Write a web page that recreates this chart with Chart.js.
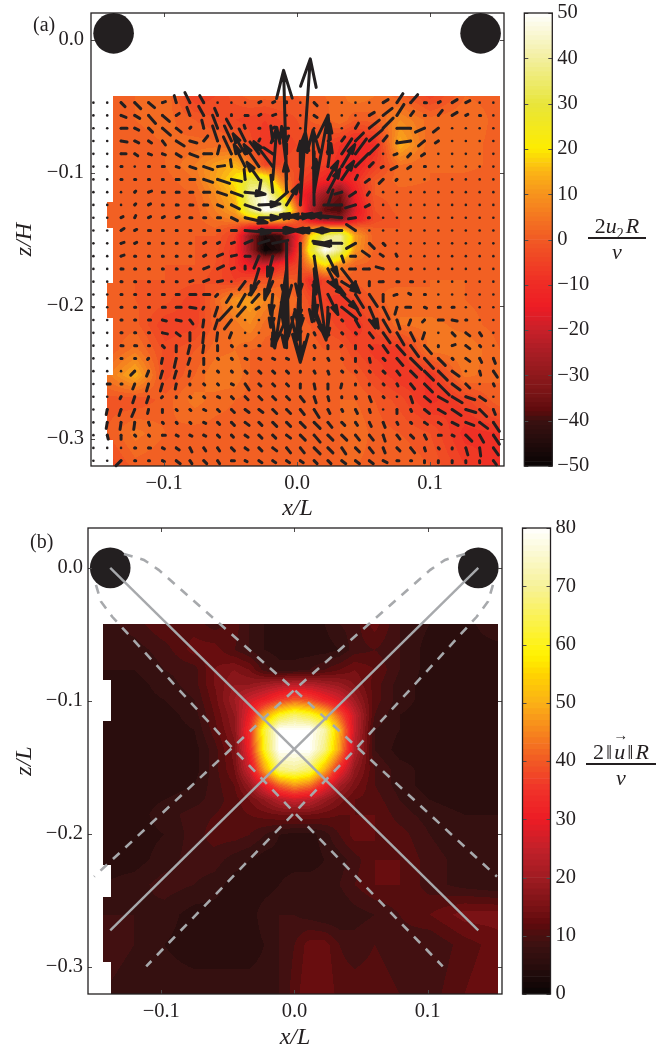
<!DOCTYPE html>
<html>
<head>
<meta charset="utf-8">
<title>Velocity fields</title>
<script src="https://cdn.jsdelivr.net/npm/chart.js@4"></script>
<style>
  body { margin: 0; background: #fff; }
  #page { position: relative; width: 656px; height: 1049px; overflow: hidden; font-family: "Liberation Serif", serif; color: #231f20; }
  canvas { position: absolute; }
  .txt { position: absolute; white-space: nowrap; font-size: 21px; line-height: 1; }
  .bar { position: absolute; height: 2px; background: #231f20; }
  sub { font-size: 14px; line-height: 0; }
</style>
</head>
<body>
<div id="page">
  <canvas id="panelA" width="515" height="520" style="left:0;top:0"></canvas>
  <canvas id="barA" width="85" height="520" style="left:515px;top:0"></canvas>
  <canvas id="panelB" width="515" height="529" style="left:0;top:520px"></canvas>
  <canvas id="barB" width="85" height="529" style="left:515px;top:520px"></canvas>

  <div class="txt" style="left:33px;top:14px;font-size:20px">(a)</div>
  <div class="txt" style="left:30px;top:531px;font-size:20px">(b)</div>

  <div class="txt" style="left:588px;width:58px;text-align:center;top:215px;font-size:22px">2<i>u</i><sub>2</sub><i style="margin-left:2px">R</i></div>
  <div class="bar" style="left:588px;width:58px;top:237px"></div>
  <div class="txt" style="left:588px;width:58px;text-align:center;top:241px;font-size:22px"><i>ν</i></div>

  <div class="txt" style="left:586px;width:70px;text-align:center;top:741px;font-size:22px">2<span style="margin:0 2px">‖</span><span style="position:relative"><i>u</i><span style="position:absolute;left:-1px;top:-11px;font-size:15px">→</span></span><span style="margin:0 2px">‖</span><i>R</i></div>
  <div class="bar" style="left:586px;width:70px;top:763px"></div>
  <div class="txt" style="left:586px;width:70px;text-align:center;top:767px;font-size:22px"><i>ν</i></div>
</div>

<script>
// Axis ticks
const xTicks = [-0.1, 0, 0.1];
const zTicks = [0, -0.1, -0.2, -0.3];
const barTicksA = [-50, -40, -30, -20, -10, 0, 10, 20, 30, 40, 50];
const barTicksB = [0, 10, 20, 30, 40, 50, 60, 70, 80];

// Cylinders at the top corners (x/L, z)
const cylindersA = [{ x: -0.138, y: 0.005 }, { x: 0.138, y: 0.005 }];
const cylindersB = [{ x: -0.1383, y: 0 }, { x: 0.138, y: 0 }];

// Colour map stops: value, colour
const stopsValA = [-50, -45, -40, -38, -35, -30, -25, -20, -15, -10, 0, 10, 15, 20, 30, 40, 50];
const stopsColA = ['#080404', '#220b0b', '#3a1010', '#5c0a0c', '#721214', '#8f191c', '#a91d24', '#c8202a', '#ed1c24', '#ef2b25', '#f15a24', '#f7941d', '#fbb515', '#fdec00', '#e8e53c', '#f3efa0', '#ffffff'];
const stopsValB = [0, 5, 8, 10, 12, 15, 20, 25, 30, 35, 40, 50, 55, 58, 70, 80];
const stopsColB = ['#0a0505', '#2a0d0d', '#3a1111', '#4a0f10', '#5f0a0c', '#7a1215', '#a01c22', '#c4202a', '#ed1c24', '#f0322a', '#f15a24', '#fbb116', '#ffd500', '#fff200', '#f7f29a', '#ffffff'];

// Left edge of the measured window: [z top, z bottom, x]
const leftEdgeA = [[-0.1218, -0.1414, -0.1429], [-0.1827, -0.2090, -0.1429], [-0.2519, -0.3008, -0.1429]];
const leftBaseA = -0.1383;
const leftEdgeB = [[-0.0842, -0.1150, -0.1378], [-0.2233, -0.2474, -0.1378], [-0.2962, -0.3203, -0.1378]];
const leftBaseB = -0.1434;

// Panel (a): 2 u2 R / nu, read on a coarse grid
const heatXA = [-0.1429, -0.1218, -0.0992, -0.0767, -0.0617, -0.0466, -0.0353, -0.0241, -0.0128, 0, 0.0098, 0.0211, 0.0323, 0.0436, 0.0586, 0.0774, 0.1, 0.1263, 0.1526];
const heatZA = [-0.0421, -0.0602, -0.0789, -0.094, -0.1053, -0.1165, -0.1278, -0.1353, -0.1414, -0.1474, -0.1579, -0.1692, -0.1805, -0.1955, -0.2143, -0.2331, -0.2519, -0.2707, -0.2955, -0.3203];
const heatA = [
  [1, 2, 4, -6, -4, -1, 1, 1, 1, 0, 1, 2, 3, 6, 4, 1, -5, 2, 1],
  [1, 2, 3, 0, -2, -4, -5, -6, -4, -2, 0, 1, 4, 0, 1, 8, 3, 4, 1],
  [1, 1, 2, 3, 3, 2, -3, -8, -6, -4, -1, -4, -8, -12, -10, 14, 2, 3, 1],
  [1, 1, 2, 6, 11, 15, 6, -4, -4, -2, -4, -6, -10, -14, -6, 4, 2, 3, 1],
  [0, 0, 1, 4, 12, 20, 32, 30, 8, -4, -8, -12, -16, -10, 0, 3, 2, 1, 1],
  [0, 0, 0, 2, 8, 16, 40, 48, 25, -10, -18, -28, -36, -14, 0, 1, 1, 1, 1],
  [0, 0, 0, 1, 6, 12, 35, 50, 48, 5, -22, -38, -40, -18, -2, 1, 1, 1, 1],
  [0, 0, 0, 1, 4, 6, 10, 16, 14, 0, -16, -26, -30, -14, -3, 0, 1, 1, 1],
  [0, 0, 0, 0, 2, -2, -14, -20, -15, -5, 6, 10, 12, 3, 0, 0, 1, 1, 1],
  [0, 0, 0, 0, 0, -6, -30, -46, -42, -15, 18, 35, 40, 12, 0, 1, 1, 1, 1],
  [0, 0, 0, 0, -1, -8, -28, -50, -45, -10, 25, 50, 38, 10, 1, 1, 1, 1, 1],
  [0, 0, 0, 0, -2, -8, -16, -18, -10, -5, 8, 20, 8, 2, 1, 1, 2, 1, 1],
  [0, 0, 0, -1, -3, -6, -3, -2, 1, 0, -10, -5, 0, 1, 2, 1, 2, 2, 1],
  [0, 0, -1, -6, 2, 10, 12, 8, 4, 2, -3, -6, -8, -4, 1, 4, 2, 2, 1],
  [0, 1, -6, -5, 1, 5, 8, 3, 2, 1, 0, -2, -5, -8, -3, 4, 5, 3, 1],
  [0, 5, -3, 0, 3, 4, 2, 1, 1, 1, 1, 0, 0, -4, -7, -8, 5, 6, 2],
  [5, 14, -3, 2, 6, 6, 2, 1, 1, 1, 1, 1, 1, 0, -4, -8, -8, 5, 2],
  [-1, -2, 1, 5, 3, 2, 1, 1, 1, 0, 0, 1, 2, 2, 0, -3, -9, -5, 2],
  [0, 5, 2, 1, 1, 1, 1, 1, 1, 1, 0, 1, 2, 4, 1, 0, -2, -9, -8],
  [-4, 1, 0, 0, 1, 0, 1, 1, 1, 2, 1, 2, 2, 2, 1, 2, 0, -6, -10]
];

// Panel (b): 2 |u| R / nu
const heatXB = [-0.1436, -0.1203, -0.0977, -0.0752, -0.0602, -0.0451, -0.0338, -0.0226, -0.0113, 0, 0.0113, 0.0226, 0.0338, 0.0451, 0.0602, 0.0789, 0.1015, 0.1278, 0.1526];
const heatZB = [-0.0421, -0.0617, -0.0767, -0.088, -0.0992, -0.1105, -0.1218, -0.1368, -0.1519, -0.1632, -0.1744, -0.1857, -0.2008, -0.2195, -0.2383, -0.2609, -0.2835, -0.3203];
const heatB = [
  [7, 9, 12, 11, 9, 11, 8, 6, 5, 5, 5, 6, 8, 9, 13, 8, 6, 5, 8],
  [7, 7, 9, 13, 13, 10, 8, 6, 5, 5, 5, 5, 6, 9, 10, 8, 5, 5, 5],
  [6, 6, 8, 9, 14, 16, 14, 9, 7, 7, 8, 10, 12, 14, 12, 8, 5, 5, 5],
  [6, 5, 7, 9, 14, 18, 18, 20, 22, 24, 23, 21, 19, 16, 11, 7, 5, 5, 5],
  [6, 5, 6, 8, 13, 20, 26, 30, 36, 40, 38, 32, 27, 20, 11, 7, 5, 5, 5],
  [5, 5, 5, 7, 12, 18, 30, 48, 60, 66, 62, 54, 40, 25, 10, 6, 5, 5, 5],
  [5, 5, 5, 6, 11, 17, 34, 62, 80, 80, 80, 72, 50, 25, 8, 6, 5, 5, 5],
  [5, 5, 5, 5, 9, 15, 32, 60, 80, 80, 80, 68, 48, 23, 8, 5, 5, 5, 5],
  [5, 5, 5, 5, 9, 14, 26, 48, 68, 70, 66, 50, 32, 18, 10, 7, 5, 5, 5],
  [5, 5, 5, 6, 9, 12, 19, 30, 42, 48, 44, 32, 21, 15, 10, 7, 5, 5, 5],
  [5, 5, 6, 7, 9, 11, 14, 18, 23, 26, 24, 19, 15, 12, 11, 8, 6, 5, 6],
  [5, 5, 7, 9, 10, 11, 12, 13, 14, 14, 14, 13, 12, 12, 12, 9, 7, 6, 6],
  [5, 5, 6, 9, 11, 11, 10, 8, 6, 5, 5, 7, 10, 13, 12, 11, 8, 6, 7],
  [5, 5, 7, 9, 9, 7, 6, 5, 5, 5, 5, 6, 7, 9, 12, 12, 9, 7, 6],
  [6, 7, 9, 8, 7, 5, 5, 5, 6, 7, 7, 7, 8, 10, 12, 12, 9, 7, 6],
  [8, 8, 7, 5, 5, 5, 5, 7, 8, 8, 7, 6, 6, 7, 8, 10, 12, 15, 15],
  [9, 8, 6, 5, 5, 5, 5, 6, 8, 10, 13, 13, 10, 9, 10, 9, 8, 11, 13],
  [8, 7, 7, 7, 7, 7, 7, 7, 8, 11, 14, 14, 11, 11, 11, 10, 9, 12, 14]
];

// Quiver positions in panel (a)
const quiverX = [-0.1532, -0.1428, -0.1324, -0.1221, -0.1117, -0.1013, -0.0909, -0.0806, -0.0702, -0.0598, -0.0494, -0.0391, -0.0287, -0.0183, -0.0079, 0.0024, 0.0128, 0.0232, 0.0336, 0.0439, 0.0543, 0.0647, 0.0751, 0.0854, 0.0958, 0.1062, 0.1166, 0.1269, 0.1373, 0.1476];
const quiverZ = [-0.0471, -0.0567, -0.0663, -0.0759, -0.0856, -0.0952, -0.1048, -0.1144, -0.124, -0.1336, -0.1432, -0.1529, -0.1625, -0.1721, -0.1817, -0.1913, -0.2009, -0.2105, -0.2202, -0.2298, -0.2394, -0.249, -0.2586, -0.2682, -0.2778, -0.2875, -0.2971, -0.3067, -0.3163];

// Quiver components, one row per z position (1 unit = 1/1330 on the axes)
const quiverU = [
  [0, 0, 4, 6, 6, 3, -2, -5, -4, 0, 0, 0, 2, 2, 0, 0, 3, 0, 0, 0, 0, 5, 6, 7, 2, 2, 5, 4, 0, 0],
  [0, 0, 5, 5, 7, 7, 3, -3, -5, -3, 0, 3, 2, 3, 0, 0, 3, 0, 0, 0, 5, 9, 7, 3, 1, 4, 5, 2, 1, 0],
  [0, 0, 6, 4, 4, 8, 5, 1, -2, -5, -5, -1, 1, 2, 2, 0, 0, 0, 0, 3, 10, 10, 1, -12, -9, -5, 0, 0, 0, 0],
  [0, 0, 6, 4, 3, 3, 8, 7, 4, -5, -7, -6, 1, -2, 2, 0, 1, 0, 3, 8, 13, 4, 0, -14, -6, -3, 0, 0, 0, 0],
  [0, 0, 5, 3, 3, 3, 5, 8, 8, 2, -8, -12, -9, -9, 0, 0, 0, 2, 10, 11, 9, 0, -3, -3, -3, 0, 0, 0, 0, 0],
  [0, 0, 1, 0, 1, 2, 3, 6, 9, 7, -1, -11, -15, -19, -5, 0, 0, 3, 13, 13, 4, -2, -6, -3, 1, 0, 0, 0, 0, 0],
  [0, 0, 1, 1, 1, 1, 3, 5, 9, 12, 10, -1, -12, 4, -3, 4, 2, 10, 12, 2, -4, -4, -1, 0, 0, 0, 0, 0, 0, 0],
  [0, 0, 0, 1, 3, 2, 3, 3, 6, 9, 11, 20, 2, -2, -1, 5, 14, 12, -7, -6, -2, 0, 0, 0, 0, 0, 0, 0, 0, 0],
  [0, 0, 0, 1, 2, 1, 2, 3, 4, 5, 8, 15, 21, 15, 12, 10, -1, 5, -18, -10, -4, 0, 0, 0, 0, 0, 0, 0, 0, 0],
  [0, 0, 2, 1, 2, 2, 3, 2, 2, 3, 6, 22, 21, 20, 25, -20, -25, -25, -30, -7, -1, 0, 0, 0, 0, 0, 0, 0, 0, 0],
  [0, 0, 3, 2, 2, 1, 1, 1, 1, 2, 5, 25, 38, 20, 25, 30, -20, -28, -28, -9, 0, 0, 0, 0, 0, 0, 0, 0, 0, 0],
  [0, 0, 3, 2, 1, 1, 1, 1, 2, 2, 3, 7, 10, 15, 0, 0, 15, -15, -20, -9, 5, 2, 0, 0, 0, 0, 0, 0, 0, 0],
  [0, 0, 3, 1, 1, 1, 1, 1, 2, 5, 5, 5, -5, -5, 2, -2, 12, 10, 2, -5, -7, -3, -1, 0, 0, 0, 0, 0, 0, 0],
  [0, 0, 2, 1, 1, 1, 1, 1, 5, 6, 3, 0, -8, -8, -11, -4, 2, 10, 17, -6, -6, -7, 1, 1, 0, 0, 0, 0, 0, 0],
  [0, 0, 1, 1, 1, 1, 1, 3, 5, 5, 0, -6, -10, -8, -4, -3, -2, 17, 18, 0, 0, -4, 2, 2, 0, 0, 0, 0, 0, 0],
  [0, 0, 1, 1, 1, 2, 3, 6, 6, -2, -5, -7, -7, -2, -3, -1, 2, 10, 16, 8, 8, 0, -3, -2, 1, 0, 0, 0, 0, 0],
  [0, 0, 1, 1, 1, 3, 5, 6, -1, -3, -12, -8, -3, -2, -2, 0, 10, -1, 15, 5, 9, 6, -2, -5, 2, 2, 2, 0, 0, 0],
  [0, 0, 1, 1, 2, 4, 5, 3, -1, -3, -7, 0, 0, 2, -2, -3, 0, 0, 1, 4, 6, 7, 3, -2, -2, 5, 5, 1, 0, 0],
  [0, 0, 1, 1, 1, 5, 4, 0, -1, -1, -2, 0, 0, -1, 0, 0, 1, 1, 1, 1, 4, 7, 7, 4, -2, 0, 3, 4, 2, 0],
  [0, 0, 2, 2, 1, 2, 0, -2, -1, 0, 1, 1, 1, 1, 0, 0, 1, 0, -1, 0, 3, 5, 8, 8, 7, 0, 3, 4, 1, 0],
  [0, 0, 1, 1, -1, -1, -2, -2, 0, 1, 1, 2, 2, 2, 2, 1, 0, 1, 1, 0, 1, 2, 6, 11, 9, 7, 1, 4, 2, 2],
  [0, 0, 0, -4, -2, -2, -2, -1, 0, 1, 1, 2, 2, 2, 2, 0, 1, 1, 1, 1, 1, 2, 3, 6, 9, 9, 7, 0, 1, 4],
  [0, 3, 1, -2, -2, -2, -1, 0, 1, 1, 2, 4, 2, 2, 2, 0, 1, 0, -1, 0, 0, 1, 1, 4, 8, 11, 8, 4, 0, 1],
  [0, 0, -1, -2, -2, -1, 0, 1, 1, 2, 2, 3, 3, 3, 3, 4, 2, 1, 0, 1, 2, 1, 0, 2, 6, 9, 10, 9, 6, 0],
  [0, -1, -2, -3, -1, 0, 1, 1, 2, 2, 3, 4, 4, 4, 4, 4, 5, 2, 1, 2, 1, 0, 0, 1, 5, 7, 9, 10, 7, 2],
  [0, -1, -1, -1, 1, 1, 1, 1, 2, 2, 3, 4, 3, 4, 4, 5, 6, 4, 3, 2, 2, 2, 1, 1, 3, 3, 6, 8, 8, 6],
  [0, 1, 0, 1, 1, 3, 2, 2, 2, 2, 2, 3, 3, 3, 4, 5, 6, 5, 5, 4, 4, 2, 3, 3, 2, 3, 2, 6, 4, 6],
  [0, 0, 0, 1, 2, 2, 3, 2, 2, 2, 3, 3, 3, 4, 4, 4, 6, 5, 4, 4, 4, 2, 3, 4, 1, 1, 0, 2, 1, 5],
  [0, 0, -5, 1, 1, 2, 4, 2, 3, 2, 3, 2, 3, 3, 3, 3, 3, 3, 4, 4, 4, 4, 2, 1, 0, 0, 0, 0, 0, 3]
];
const quiverV = [
  [0, 0, -4, -6, -5, 1, 7, 10, 7, 0, 0, 0, 1, 1, 1, 0, -3, 0, 0, 0, 0, 3, 9, 8, 0, 1, 3, 2, 0, 0],
  [0, 0, -2, -3, -8, -6, 2, 8, 9, 7, 1, 0, 1, 1, 0, 0, -2, 0, 0, 0, 3, 7, 11, 4, 0, 5, 3, 1, 0, 0],
  [0, 0, 0, -2, -4, -7, -4, 1, 8, 13, 9, 3, 0, 1, 0, 0, 0, 0, 0, 5, 8, 10, 0, 0, -4, -4, 0, 0, 0, 0],
  [0, 0, -1, -2, -2, -4, -5, -2, 5, 15, 15, 12, 2, 15, 5, 0, 1, 0, 4, 8, 11, 5, 0, -2, -5, -2, 0, 0, 0, 0],
  [0, 0, 0, -2, -1, -1, -3, -3, 0, 8, 17, 20, 12, 6, 10, 0, 0, 30, 15, 15, 9, 0, -1, -3, -2, 0, 0, 0, 0, 0],
  [0, 0, 0, 0, 0, 0, -1, -2, -3, 1, 7, 22, 22, 25, 40, 25, 15, 23, 22, 13, 4, -1, -3, -2, 0, 0, 0, 0, 0, 0],
  [0, 0, 0, 0, 0, 0, 0, 0, -3, -4, -2, 10, 17, 52, 109, 40, 20, 18, 18, 4, -3, -4, -1, 0, 0, 0, 0, 0, 0, 0],
  [0, 0, 0, 1, 1, 0, 0, 0, 0, -3, -4, -2, 12, 17, 30, 60, 77, 23, -2, -4, -3, 0, 0, 0, 0, 0, 0, 0, 0, 0],
  [0, 0, 0, 1, 1, 0, 0, 0, 0, -2, -4, -5, 1, 13, 20, 146, 75, 15, 0, -3, -2, 0, 0, 0, 0, 0, 0, 0, 0, 0],
  [0, 0, 1, 2, 1, 1, 1, 0, 0, 0, -3, -5, 0, 2, 2, 3, 2, 3, 3, -1, 0, 0, 0, 0, 0, 0, 0, 0, 0, 0],
  [0, 0, 2, 1, 0, 0, 0, 0, 0, 0, 0, -2, 0, 0, 0, 0, 0, 0, 0, 6, 0, 0, 0, 0, 0, 0, 0, 0, 0, 0],
  [0, 0, 1, 1, 0, 0, 0, 0, 1, 1, 1, 3, 3, 3, -60, -119, -3, 2, 0, -5, -5, -2, 0, 0, 0, 0, 0, 0, 0, 0],
  [0, 0, 1, 0, 0, 0, 0, 0, 1, 2, 1, 0, -12, -20, -80, -40, -84, -20, -6, 0, 5, 2, 2, 0, 0, 0, 0, 0, 0, 0],
  [0, 0, 0, 0, 0, 0, 0, 0, 2, 3, 1, 3, -26, -30, -74, -70, -25, -20, -22, 0, 0, 2, 0, 0, 0, 0, 0, 0, 0, 0],
  [0, 0, 0, 0, 0, 0, 0, 1, 2, 1, 0, -8, -13, -18, -30, -40, -40, -13, -11, -4, -4, 0, 0, 0, 0, 0, 0, 0, 0, 0],
  [0, 0, 0, 0, 0, 0, 0, 0, 0, -2, -8, -12, -8, -20, -30, -30, -20, -20, -15, -13, -12, -7, -1, 1, 0, 0, 0, 0, 0, 0],
  [0, 0, 0, 0, 0, 0, 0, -1, -2, -9, -13, -9, -2, -20, -40, -50, -27, -30, -12, -8, -21, -12, -7, 0, -1, 0, 0, 0, 0, 0],
  [0, 0, 0, 0, 0, -1, -1, -4, -7, -9, -9, 0, 0, -28, -25, -20, -1, -2, -1, -7, -8, -12, -9, -5, -2, 0, -1, 0, 0, 0],
  [0, 0, 0, 0, 0, -1, -3, -8, -10, -8, -5, 0, 0, -13, -15, -10, -2, -2, -1, -1, -5, -10, -12, -8, -6, 0, -3, -3, -3, 0],
  [0, 0, 0, 0, 0, -2, -6, -8, -7, -5, -1, 0, 0, -1, -1, -2, -2, -3, -1, -3, -3, -7, -9, -11, -8, -1, 1, -3, -1, 0],
  [0, 0, 0, 0, -1, -5, -9, -6, -6, -1, -1, -1, -1, -1, -1, -1, -1, -2, -1, -3, -4, -2, -7, -11, -10, -7, -1, -3, -4, -5],
  [0, 0, 0, -4, -5, -7, -7, -5, -1, -1, -1, -2, -2, -2, -2, -1, -2, -3, -1, -1, -1, -2, -4, -6, -9, -9, -5, 0, -4, -6],
  [0, 0, 0, -5, -7, -7, -5, -1, -1, -1, -1, -6, -2, -2, -2, -4, -5, -5, -4, -1, -1, -1, -2, -5, -8, -11, -6, -4, 0, -2],
  [0, 0, -2, -6, -6, -1, -1, -1, -1, -1, -2, -3, -3, -3, -3, -5, -6, -4, -1, -2, -5, -1, 0, -6, -5, -5, -6, -3, -4, 0],
  [0, -5, -6, -7, -4, -3, -1, -1, -1, -2, -3, -3, -3, -4, -4, -5, -8, -4, -2, -4, -3, 0, -4, -2, -4, -4, -6, -3, -7, -5],
  [0, -6, -7, -7, -3, -1, -1, -1, -1, -2, -3, -3, -3, -4, -4, -5, -6, -5, -3, -3, -4, -5, -2, -1, -2, -2, -3, -3, -6, -9],
  [0, -4, -4, -1, -1, 0, -1, -1, -1, -2, -2, -2, -3, -3, -3, -5, -7, -5, -5, -5, -5, -6, -4, -3, -4, 0, -1, -6, -7, -9],
  [0, 0, 0, 0, 0, -1, -2, -4, -3, -3, -3, -2, -3, -3, -5, -5, -6, -5, -6, -4, -5, -5, -3, -5, -3, -1, -1, -7, -8, -7],
  [0, 0, -5, 0, 0, -1, -3, -3, -3, -3, 0, -1, -2, -2, -2, -2, -3, -3, -3, -3, -3, -2, 0, 0, -2, -2, -2, -2, -2, -4]
];

// Grey beam lines in panel (b)
const beamSolid1 = [{ x: -0.1383, y: 0 }, { x: 0.138, y: -0.2727 }];
const beamSolid2 = [{ x: 0.138, y: 0 }, { x: -0.1383, y: -0.2727 }];
const beamDash1 = [{ x: -0.128, y: 0.0105 }, { x: -0.113, y: 0.006 }, { x: -0.102, y: -0.0015 }, { x: 0, y: -0.0917 }, { x: 0.0654, y: -0.1519 }, { x: 0.152, y: -0.2323 }];
const beamDash2 = [{ x: 0.128, y: 0.0105 }, { x: 0.113, y: 0.006 }, { x: 0.102, y: -0.0015 }, { x: 0, y: -0.0917 }, { x: -0.1504, y: -0.2323 }];
const beamDash3 = [{ x: -0.149, y: -0.0128 }, { x: -0.1453, y: -0.0253 }, { x: -0.1368, y: -0.0368 }, { x: -0.0476, y: -0.1344 }, { x: 0, y: -0.1842 }, { x: 0.1113, y: -0.2998 }];
const beamDash4 = [{ x: 0.149, y: -0.0128 }, { x: 0.1453, y: -0.0253 }, { x: 0.1368, y: -0.0368 }, { x: 0.0476, y: -0.1344 }, { x: 0, y: -0.1842 }, { x: -0.1113, y: -0.2998 }];

const INK = '#231f20';
const GREY = '#a7a9ac';
const FONT = '"Liberation Serif", serif';
const UNIT = 1 / 1330;

// Helpers
function hexToRgb(hex) {
  return [1, 3, 5].map(i => parseInt(hex.slice(i, i + 2), 16));
}

function colorAt(stopVals, stopCols, v) {
  let i = 0;
  while (i < stopVals.length - 2 && v > stopVals[i + 1]) i++;
  const t = Math.min(1, Math.max(0, (v - stopVals[i]) / (stopVals[i + 1] - stopVals[i])));
  const a = hexToRgb(stopCols[i]);
  const b = hexToRgb(stopCols[i + 1]);
  return a.map((c, k) => Math.round(c + (b[k] - c) * t));
}

function sampleGrid(xs, zs, grid, x, z) {
  let i = 0;
  while (i < xs.length - 2 && x > xs[i + 1]) i++;
  let j = 0;
  while (j < zs.length - 2 && z < zs[j + 1]) j++;
  const tx = Math.min(1, Math.max(0, (x - xs[i]) / (xs[i + 1] - xs[i])));
  const tz = Math.min(1, Math.max(0, (z - zs[j]) / (zs[j + 1] - zs[j])));
  const top = grid[j][i] + (grid[j][i + 1] - grid[j][i]) * tx;
  const bottom = grid[j + 1][i] + (grid[j + 1][i + 1] - grid[j + 1][i]) * tx;
  return top + (bottom - top) * tz;
}

// Filled contours, quantised like the colour bar
function heatPlugin(cfg) {
  return {
    id: 'heat',
    beforeDatasetsDraw(chart) {
      const { ctx, chartArea: area, scales } = chart;
      const w = Math.ceil(area.right - area.left);
      const h = Math.ceil(area.bottom - area.top);
      const off = document.createElement('canvas');
      off.width = w;
      off.height = h;
      const offCtx = off.getContext('2d');
      const img = offCtx.createImageData(w, h);
      const zMax = cfg.zs[0];
      const xMax = cfg.xs[cfg.xs.length - 1];
      for (let py = 0; py < h; py++) {
        const z = scales.y.getValueForPixel(area.top + py + 0.5);
        if (z > zMax) continue;
        let xLeft = cfg.leftBase;
        cfg.leftEdge.forEach(e => { if (z <= e[0] && z >= e[1]) xLeft = e[2]; });
        for (let px = 0; px < w; px++) {
          const x = scales.x.getValueForPixel(area.left + px + 0.5);
          if (x < xLeft || x > xMax) continue;
          const v = sampleGrid(cfg.xs, cfg.zs, cfg.grid, x, z);
          const level = Math.floor((v - cfg.min) / cfg.step) * cfg.step + cfg.min + cfg.step / 2;
          const rgb = colorAt(cfg.stopVals, cfg.stopCols, level);
          const k = (py * w + px) * 4;
          img.data[k] = rgb[0];
          img.data[k + 1] = rgb[1];
          img.data[k + 2] = rgb[2];
          img.data[k + 3] = 255;
        }
      }
      offCtx.putImageData(img, 0, 0);
      ctx.drawImage(off, area.left, area.top);
    }
  };
}

// Box and inward ticks
const framePlugin = {
  id: 'frame',
  afterDatasetsDraw(chart, args, opts) {
    const { ctx, chartArea: a, scales } = chart;
    ctx.save();
    ctx.strokeStyle = '#4d4a4a';
    ctx.lineWidth = 1;
    ctx.beginPath();
    const len = 4;
    (opts.yTicks || []).forEach(t => {
      const p = Math.round(scales.y.getPixelForValue(t)) + 0.5;
      ctx.moveTo(a.left, p); ctx.lineTo(a.left + len, p);
      ctx.moveTo(a.right, p); ctx.lineTo(a.right - len, p);
    });
    (opts.xTicks || []).forEach(t => {
      const p = Math.round(scales.x.getPixelForValue(t)) + 0.5;
      ctx.moveTo(p, a.top); ctx.lineTo(p, a.top + len);
      ctx.moveTo(p, a.bottom); ctx.lineTo(p, a.bottom - len);
    });
    ctx.stroke();
    ctx.strokeStyle = INK;
    ctx.lineWidth = 1.3;
    ctx.strokeRect(a.left, a.top, a.right - a.left, a.bottom - a.top);
    ctx.restore();
  }
};

// Each arrow becomes a small polyline, gaps keep them apart
function buildArrows() {
  const pts = [];
  quiverZ.forEach((z, j) => {
    quiverX.forEach((x, i) => {
      const u = quiverU[j][i];
      const v = quiverV[j][i];
      const len = Math.hypot(u, v);
      if (len === 0) return;
      const tipX = x + u * UNIT;
      const tipZ = z + v * UNIT;
      pts.push({ x: x, y: z }, { x: tipX, y: tipZ });
      if (len >= 20) {
        const head = Math.max(9, Math.min(28, 0.3 * len));
        const ux = u / len, uz = v / len;
        const bx = tipX - ux * head * UNIT, bz = tipZ - uz * head * UNIT;
        const half = head * 0.28 * UNIT;
        pts.push({ x: bx - uz * half, y: bz + ux * half }, { x: tipX, y: tipZ }, { x: bx + uz * half, y: bz - ux * half });
      }
      pts.push({ x: NaN, y: NaN });
    });
  });
  return pts;
}

function gridDots() {
  const pts = [];
  quiverZ.forEach(z => quiverX.forEach(x => pts.push({ x: x, y: z })));
  return pts;
}

function formatTick(v) {
  const s = Math.abs(v).toFixed(1);
  return v < -1e-9 ? '\u2212' + s : s;
}

function panelScales(xr, zr, xTitle, zTitle, leftW, bottomH, yPad) {
  return {
    x: {
      type: 'linear', min: xr[0], max: xr[1],
      afterBuildTicks: s => { s.ticks = xTicks.map(v => ({ value: v })); },
      afterFit: s => { s.height = bottomH; s.paddingLeft = 0; s.paddingRight = 0; },
      grid: { display: false, drawTicks: false },
      border: { display: false },
      ticks: { color: INK, font: { family: FONT, size: 20.5 }, padding: 5, maxRotation: 0, autoSkip: false, callback: formatTick },
      title: { display: true, text: xTitle, color: INK, font: { family: FONT, size: 24, style: 'italic' }, padding: { top: 0, bottom: -3 } }
    },
    y: {
      type: 'linear', min: zr[0], max: zr[1],
      afterBuildTicks: s => { s.ticks = zTicks.map(v => ({ value: v })); },
      afterFit: s => { s.width = leftW; s.paddingTop = 0; s.paddingBottom = 0; },
      grid: { display: false, drawTicks: false },
      border: { display: false },
      ticks: { color: INK, font: { family: FONT, size: 20.5 }, padding: yPad, autoSkip: false, callback: formatTick },
      title: { display: true, text: zTitle, color: INK, font: { family: FONT, size: 24, style: 'italic' }, padding: { top: 10, bottom: 0 } }
    }
  };
}

// Panel (a)
new Chart(document.getElementById('panelA'), {
  type: 'scatter',
  data: {
    datasets: [
      { data: cylindersA, pointRadius: 20.3, pointBackgroundColor: INK, pointBorderWidth: 0, clip: false, order: 3 },
      { data: buildArrows(), showLine: true, spanGaps: false, pointRadius: 0, borderColor: INK, borderWidth: 3, borderCapStyle: 'round', borderJoinStyle: 'round', order: 1, clip: false },
      { data: gridDots(), pointRadius: 1.3, pointBackgroundColor: INK, pointBorderWidth: 0, order: 2 }
    ]
  },
  options: {
    responsive: false, animation: false, devicePixelRatio: 1,
    layout: { autoPadding: false, padding: { top: 13, right: 11 } },
    scales: panelScales([-0.155, 0.1556], [-0.3203, 0.0203], 'x/L', 'z/H', 91, 54, 7),
    plugins: { legend: { display: false }, tooltip: { enabled: false }, frame: { xTicks: xTicks, yTicks: zTicks } }
  },
  plugins: [heatPlugin({ xs: heatXA, zs: heatZA, grid: heatA, min: -50, step: 2, stopVals: stopsValA, stopCols: stopsColA, leftEdge: leftEdgeA, leftBase: leftBaseA }), framePlugin]
});

// Panel (b)
const beamDashed = { showLine: true, pointRadius: 0, borderColor: GREY, borderWidth: 2.6, borderDash: [9, 8], clip: false, order: 1 };
const beamFull = { showLine: true, pointRadius: 0, borderColor: GREY, borderWidth: 2.4, clip: false, order: 1 };
new Chart(document.getElementById('panelB'), {
  type: 'scatter',
  data: {
    datasets: [
      { data: cylindersB, pointRadius: 20.3, pointBackgroundColor: INK, pointBorderWidth: 0, clip: false, order: 3 },
      { ...beamFull, data: beamSolid1 },
      { ...beamFull, data: beamSolid2 },
      { ...beamDashed, data: beamDash1 },
      { ...beamDashed, data: beamDash2 },
      { ...beamDashed, data: beamDash3 },
      { ...beamDashed, data: beamDash4 }
    ]
  },
  options: {
    responsive: false, animation: false, devicePixelRatio: 1,
    layout: { autoPadding: false, padding: { top: 8, right: 13 } },
    scales: panelScales([-0.155, 0.1558], [-0.3206, 0.03], 'x/L', 'z/L', 88, 55, 5),
    plugins: { legend: { display: false }, tooltip: { enabled: false }, frame: { xTicks: xTicks, yTicks: zTicks } }
  },
  plugins: [heatPlugin({ xs: heatXB, zs: heatZB, grid: heatB, min: 0, step: 2, stopVals: stopsValB, stopCols: stopsColB, leftEdge: leftEdgeB, leftBase: leftBaseB }), framePlugin]
});

// Colour bars: one floating bar per contour level
function colorBar(id, ticks, stopVals, stopCols, step, paddingLeft, paddingTop, bottomH, barW) {
  const lo = ticks[0];
  const hi = ticks[ticks.length - 1];
  const datasets = [];
  for (let v = lo; v < hi; v += step) {
    const rgb = colorAt(stopVals, stopCols, v + step / 2);
    datasets.push({ data: [[v, v + step]], backgroundColor: `rgb(${rgb.join(',')})`, borderWidth: 0, barPercentage: 1, categoryPercentage: 1, grouped: false });
  }
  const canvas = document.getElementById(id);
  new Chart(canvas, {
    type: 'bar',
    data: { labels: ['level'], datasets: datasets },
    options: {
      responsive: false, animation: false, devicePixelRatio: 1,
      layout: { padding: { left: paddingLeft, top: paddingTop, bottom: bottomH } },
      scales: {
        x: { display: false },
        y: {
          position: 'right', min: lo, max: hi,
          afterBuildTicks: s => { s.ticks = ticks.map(v => ({ value: v })); },
          afterFit: s => { s.width = canvas.width - paddingLeft - barW; s.paddingTop = 0; s.paddingBottom = 0; },
          grid: { display: false, drawTicks: false },
          border: { display: false },
          ticks: { color: INK, font: { family: FONT, size: 20.5 }, padding: 5, autoSkip: false, callback: v => (v < 0 ? '\u2212' + Math.abs(v) : String(v)) }
        }
      },
      plugins: { legend: { display: false }, tooltip: { enabled: false }, frame: { yTicks: ticks } }
    },
    plugins: [framePlugin]
  });
}

colorBar('barA', barTicksA, stopsValA, stopsColA, 1, 9.3, 13, 54, 28);
colorBar('barB', barTicksB, stopsValB, stopsColB, 1, 7.5, 8, 55, 28);
</script>
</body>
</html>
